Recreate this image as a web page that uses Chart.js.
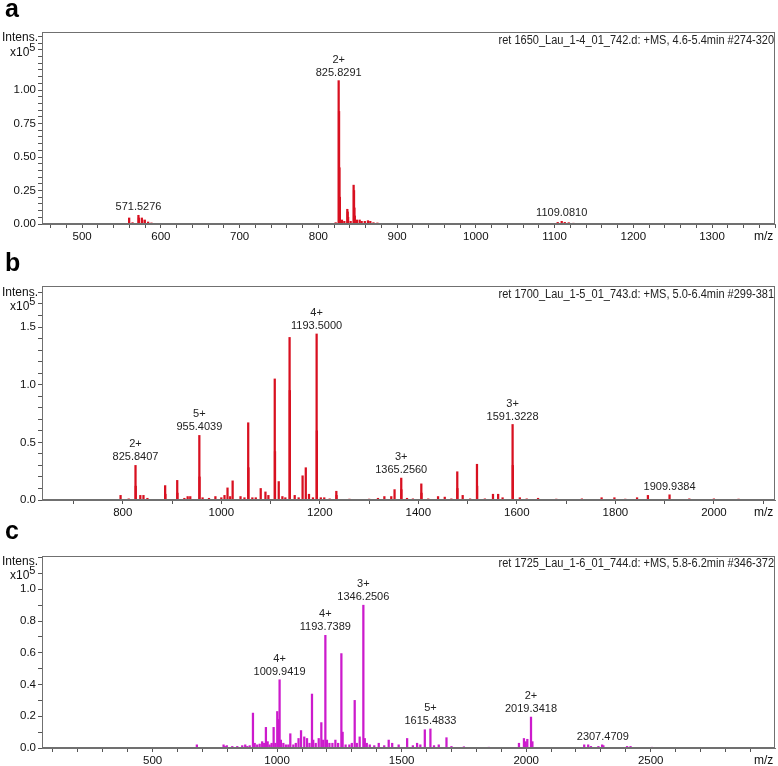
<!DOCTYPE html>
<html lang="en">
<head>
<meta charset="UTF-8">
<title>MS spectra a-c</title>
<script src="https://cdn.jsdelivr.net/npm/chart.js"></script>
<style>
    body { margin: 0; background: #fff; width: 778px; height: 766px; position: relative; overflow: hidden; font-family: "Liberation Sans", Arial, sans-serif; }
    canvas { position: absolute; left: 0; }
    .txt { position: absolute; white-space: nowrap; color: #111; z-index: 2; }
    .letter { font-weight: bold; font-size: 25px; line-height: 25px; left: 5px; color: #000; }
    .axl { font-size: 12px; line-height: 13px; }
    .ret { font-size: 12.5px; line-height: 13px; right: 4px; transform: scaleX(0.88); transform-origin: right center; color: #222; }
    sup { font-size: 11px; line-height: 0; }
</style>
</head>
<body>
<div class="txt letter" style="top:-4px">a</div>
<div class="txt letter" style="top:250px">b</div>
<div class="txt letter" style="top:518px">c</div>

<div class="txt axl" style="left:2px;top:31px">Intens.</div>
<div class="txt axl" style="left:10px;top:46px">x10<sup>5</sup></div>
<div class="txt axl" style="left:2px;top:286px">Intens.</div>
<div class="txt axl" style="left:10px;top:300px">x10<sup>5</sup></div>
<div class="txt axl" style="left:2px;top:555px">Intens.</div>
<div class="txt axl" style="left:10px;top:569px">x10<sup>5</sup></div>

<div class="txt axl" style="left:754px;top:230px">m/z</div>
<div class="txt axl" style="left:754px;top:506px">m/z</div>
<div class="txt axl" style="left:754px;top:754px">m/z</div>

<div class="txt ret" style="top:34px">ret 1650_Lau_1-4_01_742.d: +MS, 4.6-5.4min #274-320</div>
<div class="txt ret" style="top:288px">ret 1700_Lau_1-5_01_743.d: +MS, 5.0-6.4min #299-381</div>
<div class="txt ret" style="top:557px">ret 1725_Lau_1-6_01_744.d: +MS, 5.8-6.2min #346-372</div>

<canvas id="chartA" width="778" height="246" style="top:0"></canvas>
<canvas id="chartB" width="778" height="272" style="top:250px"></canvas>
<canvas id="chartC" width="778" height="244" style="top:522px"></canvas>

<script>
// panel a: m/z and intensity (x10^5)
const aMz = [478, 548, 559.7, 564, 571.5, 572, 575.8, 576.3, 579.6, 583.8, 588, 655, 818, 822,
    825.8, 826.3, 826.8, 827.3, 830, 833, 836.8, 837.3, 837.8, 841, 844.8, 845.3, 845.8, 846.3,
    849, 852.5, 855, 859, 863, 866, 870, 875, 1104, 1109.1, 1113, 1118, 1124];
const aInt = [0.005, 0.005, 0.045, 0.01, 0.065, 0.045, 0.045, 0.03, 0.03, 0.015, 0.008, 0.005, 0.005, 0.01,
    1.07, 0.84, 0.42, 0.2, 0.03, 0.02, 0.11, 0.09, 0.05, 0.02, 0.29, 0.25, 0.12, 0.06,
    0.03, 0.03, 0.02, 0.02, 0.025, 0.02, 0.01, 0.008, 0.012, 0.02, 0.012, 0.01, 0.006];
const aLabelMz = [825.8291, 571.5276, 1109.0810];
const aLabelCharge = ['2+', '', ''];

// panel b
const bMz = [795.5, 812, 825.84, 826.34, 835.6, 842, 850, 886, 886.5, 910.5, 911, 925, 931.7, 937,
    955.40, 955.8, 962, 975, 988, 1000, 1006.5, 1012.6, 1018, 1023, 1039, 1047, 1054.6, 1055.1,
    1063, 1070, 1080, 1089.6, 1095.6, 1108.5, 1109.0, 1116.6, 1124, 1130, 1138.6, 1139.1, 1149, 1157,
    1165, 1171.5, 1178, 1186, 1193.50, 1194.0, 1202, 1209, 1220, 1233.5, 1234, 1260, 1300,
    1318, 1331, 1345, 1351.7, 1365.26, 1365.6, 1377, 1389, 1406, 1406.4, 1420, 1440, 1453.6, 1467,
    1479, 1479.3, 1490, 1505, 1519, 1519.3, 1535, 1551.5, 1562, 1571, 1591.32, 1591.8, 1606, 1620,
    1643, 1680, 1732, 1772, 1798, 1820, 1844, 1866, 1909.94, 1950, 2000, 2050];
const bInt = [0.04, 0.01, 0.30, 0.12, 0.04, 0.04, 0.015, 0.125, 0.05, 0.17, 0.06, 0.015, 0.03, 0.03,
    0.56, 0.2, 0.02, 0.015, 0.03, 0.02, 0.04, 0.105, 0.03, 0.166, 0.03, 0.02, 0.67, 0.28,
    0.02, 0.02, 0.10, 0.07, 0.04, 1.05, 0.42, 0.16, 0.03, 0.02, 1.41, 0.95, 0.04, 0.02,
    0.21, 0.28, 0.05, 0.02, 1.44, 0.6, 0.02, 0.02, 0.01, 0.076, 0.04, 0.008, 0.008,
    0.015, 0.03, 0.03, 0.09, 0.19, 0.09, 0.015, 0.01, 0.14, 0.06, 0.01, 0.03, 0.025, 0.01,
    0.245, 0.1, 0.04, 0.01, 0.31, 0.12, 0.01, 0.05, 0.05, 0.02, 0.655, 0.3, 0.02, 0.01,
    0.015, 0.008, 0.01, 0.02, 0.02, 0.008, 0.02, 0.04, 0.045, 0.01, 0.01, 0.008];
const bLabelMz = [825.8407, 955.4039, 1193.5000, 1365.2560, 1591.3228, 1909.9384];
const bLabelCharge = ['2+', '5+', '4+', '3+', '3+', ''];

// panel c
const cMz = [677.7, 785, 790, 798, 820, 840, 860, 872, 880, 890, 903, 910, 920, 930, 940, 948,
    955, 962, 970, 978, 986, 993, 1000.6, 1005, 1009.94, 1015, 1025, 1035, 1045, 1053, 1065, 1075,
    1086, 1096, 1109, 1120, 1130, 1140, 1145, 1155, 1167, 1177.5, 1185, 1193.74, 1200, 1210, 1222,
    1234, 1245, 1258, 1263, 1275, 1290, 1300, 1311.5, 1320, 1331.5, 1346.25, 1352, 1360, 1372, 1390,
    1408, 1430, 1448, 1462, 1488, 1522, 1545, 1562, 1575, 1593, 1615.48, 1630, 1649, 1680, 1700,
    1750, 1850, 1971, 1991, 1998, 2004.6, 2019.34, 2025, 2233, 2249, 2260, 2290, 2305, 2310,
    2405, 2419, 2505];
const cInt = [0.02, 0.02, 0.01, 0.015, 0.01, 0.01, 0.015, 0.02, 0.01, 0.015, 0.22, 0.03, 0.02, 0.025, 0.04, 0.03,
    0.13, 0.04, 0.02, 0.03, 0.13, 0.03, 0.23, 0.18, 0.43, 0.05, 0.03, 0.02, 0.02, 0.09, 0.02, 0.03,
    0.06, 0.11, 0.07, 0.06, 0.03, 0.34, 0.05, 0.03, 0.06, 0.16, 0.05, 0.71, 0.05, 0.03, 0.03,
    0.05, 0.03, 0.595, 0.1, 0.02, 0.02, 0.03, 0.30, 0.03, 0.07, 0.90, 0.06, 0.03, 0.02, 0.015,
    0.03, 0.015, 0.05, 0.03, 0.02, 0.06, 0.015, 0.03, 0.02, 0.115, 0.12, 0.015, 0.02, 0.065, 0.01,
    0.008, 0.005, 0.03, 0.06, 0.04, 0.055, 0.195, 0.04, 0.02, 0.02, 0.01, 0.01, 0.02, 0.015,
    0.01, 0.01, 0.005];
const cLabelMz = [1009.9419, 1193.7389, 1346.2506, 1615.4833, 2019.3418, 2307.4709];
const cLabelCharge = ['4+', '4+', '3+', '5+', '2+', ''];

const annFont = '11px "Liberation Sans", sans-serif';
const tickFont = { family: '"Liberation Sans", Arial, sans-serif', size: 11.5 };

// grey box round the plot area
const frame = {
    id: 'frame',
    afterDraw(chart) {
        const a = chart.chartArea, ctx = chart.ctx;
        ctx.save();
        ctx.strokeStyle = '#707070';
        ctx.lineWidth = 1;
        ctx.strokeRect(a.left + 0.5, a.top + 0.5, a.right - a.left - 1, a.bottom - a.top - 1);
        ctx.restore();
    }
};

// m/z and charge labels above peaks
const peakLabels = {
    id: 'peakLabels',
    afterDatasetsDraw(chart, args, opts) {
        const xs = chart.scales.x, ys = chart.scales.y, ctx = chart.ctx;
        const pts = chart.data.datasets[0].data;
        ctx.save();
        ctx.font = annFont;
        ctx.fillStyle = '#222';
        ctx.textAlign = 'center';
        ctx.textBaseline = 'middle';
        opts.mz.forEach((m, i) => {
            let top = 0;
            pts.forEach(p => { if (Math.abs(p.x - m) < 6 && p.y > top) top = p.y; });
            const px = xs.getPixelForValue(m), py = ys.getPixelForValue(top);
            ctx.fillText(m.toFixed(4), px, py - 8);
            if (opts.charge[i]) ctx.fillText(opts.charge[i], px, py - 21);
        });
        ctx.restore();
    }
};

function isStep(v, s) {
    return Math.abs(v / s - Math.round(v / s)) < 1e-6;
}

function makeSpectrum(id, mz, inten, color, cfg) {
    new Chart(document.getElementById(id), {
        type: 'bar',
        data: {
            datasets: [{
                data: mz.map((m, i) => ({ x: m, y: inten[i] })),
                backgroundColor: color,
                borderWidth: 0,
                barThickness: 1.6
            }]
        },
        options: {
            responsive: false,
            animation: false,
            devicePixelRatio: 1,
            layout: { padding: { top: cfg.padTop, right: 3, left: 0, bottom: 0 } },
            plugins: {
                legend: { display: false },
                tooltip: { enabled: false },
                peakLabels: { mz: cfg.labelMz, charge: cfg.labelCharge }
            },
            scales: {
                x: {
                    type: 'linear',
                    offset: false,
                    min: cfg.xMin,
                    max: cfg.xMax,
                    afterFit: s => { s.height = cfg.xHeight; },
                    grid: { display: true, drawOnChartArea: false, drawTicks: true, tickLength: 4, tickColor: '#555', offset: false },
                    border: { display: true, color: '#707070' },
                    ticks: {
                        stepSize: cfg.xMinor,
                        autoSkip: false,
                        maxRotation: 0,
                        includeBounds: false,
                        padding: 2,
                        color: '#111',
                        font: tickFont,
                        callback: v => (isStep(v, cfg.xMajor) && v <= cfg.xLastLabel ? String(v) : '')
                    }
                },
                y: {
                    min: 0,
                    max: cfg.yMax,
                    afterFit: s => { s.width = 42; },
                    grid: { display: true, drawOnChartArea: false, drawTicks: true, tickLength: 4, tickColor: '#555' },
                    border: { display: true, color: '#707070' },
                    ticks: {
                        stepSize: cfg.yMinor,
                        autoSkip: false,
                        includeBounds: false,
                        padding: 2,
                        color: '#111',
                        font: tickFont,
                        callback: v => (isStep(v, cfg.yMajor) && v <= cfg.yLastLabel + 1e-6 ? v.toFixed(cfg.yDec) : '')
                    }
                }
            }
        },
        plugins: [frame, peakLabels]
    });
}

makeSpectrum('chartA', aMz, aInt, '#d81020', {
    padTop: 32, xHeight: 22, xMin: 449, xMax: 1380, xMinor: 20, xMajor: 100, xLastLabel: 1300,
    yMax: 1.433, yMinor: 0.05, yMajor: 0.25, yDec: 2, yLastLabel: 1.0, labelMz: aLabelMz, labelCharge: aLabelCharge
});
// max kept off a whole number of steps from min so the ticks stay on round values
makeSpectrum('chartB', bMz, bInt, '#d81020', {
    padTop: 36, xHeight: 22, xMin: 636, xMax: 2124, xMinor: 100, xMajor: 200, xLastLabel: 2000,
    yMax: 1.856, yMinor: 0.1, yMajor: 0.5, yDec: 1, yLastLabel: 1.5, labelMz: bLabelMz, labelCharge: bLabelCharge
});
makeSpectrum('chartC', cMz, cInt, '#cc1bcc', {
    padTop: 34, xHeight: 18, xMin: 56, xMax: 2999, xMinor: 100, xMajor: 500, xLastLabel: 2500,
    yMax: 1.21, yMinor: 0.1, yMajor: 0.2, yDec: 1, yLastLabel: 1.0, labelMz: cLabelMz, labelCharge: cLabelCharge
});
</script>
</body>
</html>
